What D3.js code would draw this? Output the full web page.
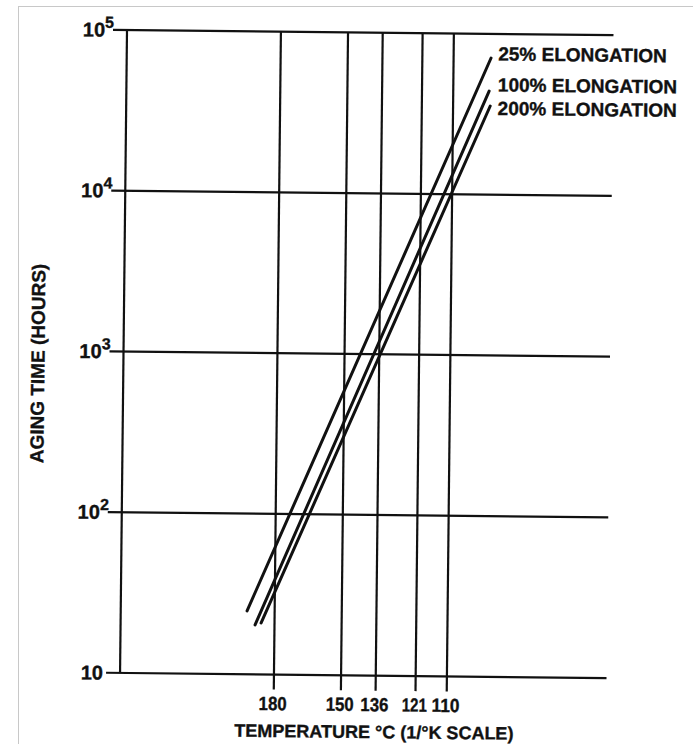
<!DOCTYPE html>
<html lang="en">
<head>
<meta charset="utf-8">
<title>Aging time vs temperature</title>
<script src="https://cdn.jsdelivr.net/npm/d3@7/dist/d3.min.js"></script>
<style>
body { margin: 0; background: #fff; }
svg text { font-family: "Liberation Sans", Arial, sans-serif; font-weight: bold; fill: #111; stroke: #111; stroke-width: 0.35; }
</style>
</head>
<body>
<div id="chart"></div>
<script>
// data
var tempTicks = [180, 150, 136, 121, 110];          // deg C, drawn on a 1/K scale
var timeTicks = [10, 1e2, 1e3, 1e4, 1e5];           // hours
var seriesNames = ["25% ELONGATION", "100% ELONGATION", "200% ELONGATION"];
var elong25  = [[193.6, 24.8], [97.6, 70800]];      // [temp C, hours]
var elong100 = [[189.5, 20.3], [98.1, 44100]];
var elong200 = [[186.5, 20.9], [97.7, 35600]];
var series = [elong25, elong100, elong200];

var width = 693, height = 744;

function invK(c) { return 1000 / (c + 273.15); }

var x = d3.scaleLinear().domain([1.848, 2.982]).range([123.5, 610]);
var y = d3.scaleLog().domain([10, 1e5]).range([675.5, 32.5]);

var svg = d3.select("#chart").append("svg")
    .attr("width", width)
    .attr("height", height);

// faint scan border
svg.append("line").attr("x1", 18).attr("x2", width).attr("y1", 6.5).attr("y2", 6.5)
    .attr("stroke", "#c8c8c8").attr("stroke-width", 1);
svg.append("line").attr("x1", 18.5).attr("x2", 18.5).attr("y1", 6).attr("y2", height)
    .attr("stroke", "#c8c8c8").attr("stroke-width", 1);

// the scan is slightly rotated
var g = svg.append("g").attr("transform", "rotate(0.62, 360, 355)");

var x0 = x.range()[0], x1 = x.range()[1];

// horizontal decade lines with stubs to the left
g.selectAll(".hgrid").data(timeTicks).enter().append("line")
    .attr("x1", x0 - 14).attr("x2", x1)
    .attr("y1", function(d) { return y(d); })
    .attr("y2", function(d) { return y(d); })
    .attr("stroke", "#111").attr("stroke-width", 2.2);

// left axis
g.append("line").attr("x1", x0).attr("x2", x0)
    .attr("y1", y(1e5)).attr("y2", y(10))
    .attr("stroke", "#111").attr("stroke-width", 2.2);

// temperature lines, running past the bottom as ticks
g.selectAll(".vgrid").data(tempTicks).enter().append("line")
    .attr("x1", function(d) { return x(invK(d)); })
    .attr("x2", function(d) { return x(invK(d)); })
    .attr("y1", y(1e5)).attr("y2", y(10) + 15)
    .attr("stroke", "#111").attr("stroke-width", 2.2);

// y tick labels: 10, 10^2 ...
g.selectAll(".ylab").data(timeTicks).enter().append("text")
    .attr("x", function(d) { return d === 10 ? x0 - 17 : x0 - 13; })
    .attr("y", function(d) { return y(d) + 7; })
    .attr("text-anchor", "end")
    .attr("font-size", 20)
    .each(function(d) {
        var t = d3.select(this);
        var p = Math.round(Math.log10(d));
        t.append("tspan").text("10");
        if (p > 1) {
            t.append("tspan").attr("dy", -9).attr("dx", 0)
                .attr("font-size", 16).text(p);
        }
    });

// x tick labels
g.selectAll(".xlab").data(tempTicks).enter().append("text")
    .attr("x", function(d) { return x(invK(d)) - 1; })
    .attr("y", 711)
    .attr("text-anchor", "middle")
    .attr("font-size", 19)
    .attr("textLength", function(d) { return d === 121 ? 25 : 28; })
    .attr("lengthAdjust", "spacingAndGlyphs")
    .text(function(d) { return d; });

// elongation lines
var line = d3.line()
    .x(function(d) { return x(invK(d[0])); })
    .y(function(d) { return y(d[1]); });

g.selectAll(".curve").data(series).enter().append("path")
    .attr("d", line)
    .attr("fill", "none")
    .attr("stroke", "#111")
    .attr("stroke-width", 3)
    .attr("stroke-linecap", "round");

// labels beside the upper ends
var labelY = [59, 90, 113.5];
g.selectAll(".slab").data(seriesNames).enter().append("text")
    .attr("x", 495)
    .attr("y", function(d, i) { return labelY[i]; })
    .attr("font-size", 19)
    .text(function(d) { return d; });

// axis titles
g.append("text")
    .attr("transform", "translate(44.5,367) rotate(-90)")
    .attr("text-anchor", "middle")
    .attr("font-size", 19)
    .text("AGING TIME (HOURS)");

g.append("text")
    .attr("x", 378).attr("y", 738)
    .attr("text-anchor", "middle")
    .attr("font-size", 18)
    .text("TEMPERATURE °C (1/°K SCALE)");
</script>
</body>
</html>
